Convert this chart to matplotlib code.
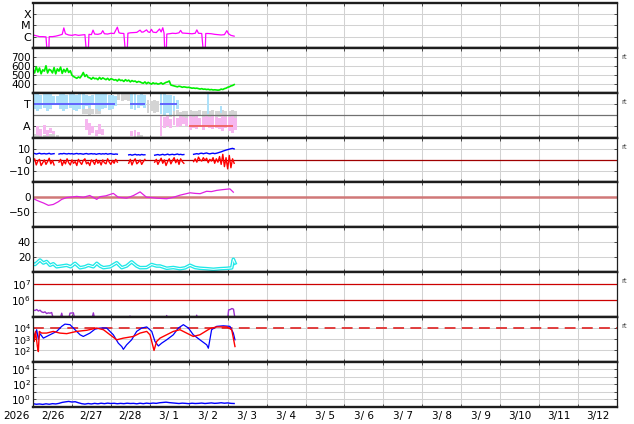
import numpy as np
import matplotlib
matplotlib.use('Agg')
import matplotlib.pyplot as plt
from matplotlib.ticker import NullLocator

nan = np.nan

# ---- data (hours since 2/26 00:00 UT) ----
day_labels = ['2/26', '2/27', '2/28', '3/ 1', '3/ 2', '3/ 3', '3/ 4', '3/ 5',
              '3/ 6', '3/ 7', '3/ 8', '3/ 9', '3/10', '3/11', '3/12']
year_label = '2026'

# X-ray flux (units of 1e-6 W/m2)
xray_t = [0, 2, 4, 6, 8, 9, 9.6, 10, 12, 14, 16, 18, 19, 20, 22, 24, 26, 28, 30, 32,
          33.3, 33.9, 34.5, 36, 37, 38, 40, 42, 43, 44, 46, 48, 50, 52, 53, 54, 56,
          57.3, 57.9, 58.5, 60, 62, 64, 66, 67, 68, 70, 71, 72, 73, 74, 76, 78, 79, 80,
          80.8, 81.4, 82, 82.5, 84, 86, 88, 90, 91, 92, 94, 96, 98, 100, 101, 102, 104,
          105.4, 106, 106.5, 108, 110, 112, 114, 116, 118, 119.5, 120.5, 122, 124]
xray_c = [1.4, 1.2, 1.0, 1.0, 0.95, 0.01, 0.01, 1.0, 1.0, 1.1, 1.3, 1.6, 6.0, 1.8, 1.4, 1.3, 1.5, 1.3, 1.4, 1.5,
          0.01, 0.01, 1.6, 1.5, 3.8, 1.7, 1.6, 1.9, 3.4, 1.8, 1.7, 2.0, 1.9, 7.0, 2.2, 2.0, 1.9,
          0.01, 0.01, 2.0, 2.2, 2.3, 2.4, 3.8, 2.5, 2.6, 4.0, 2.6, 2.4, 4.5, 2.5, 2.3, 4.8, 2.6, 6.2,
          2.0, 0.01, 0.01, 1.7, 1.8, 2.0, 1.9, 2.2, 3.6, 2.1, 2.0, 1.9, 1.8, 2.0, 4.0, 2.0, 1.9,
          0.01, 0.01, 1.9, 1.9, 1.8, 1.6, 1.5, 1.4, 1.5, 3.4, 1.8, 1.3, 1.1]

# solar wind speed, hourly from 0 h
sw_speed = [560, 520, 590, 530, 575, 510, 555, 540, 600, 520, 560,
            550, 520, 580, 510, 565, 540, 585, 515, 560, 530, 570, 525, 545,
            495, 480, 470, 460, 475,
            465, 490, 525, 480, 500, 470,
            465, 450, 470, 455, 460, 445, 470, 450, 465, 455, 445, 460, 440, 455, 450, 440,
            445, 430, 450, 435, 440, 425, 445, 430, 440, 420, 435, 425, 430, 415, 425, 420,
            410, 405, 420, 400, 415, 405, 395, 410, 400, 405, 395, 400, 410, 395, 405, 415, 420, 430,
            385, 380, 375, 370, 365, 372, 368, 360, 365, 362, 358, 360,
            355, 350, 352, 348, 350, 345, 340, 345, 338, 340, 335, 338, 332, 335, 330, 332, 330, 328, 330,
            340, 335, 345, 350, 360, 365, 375, 380, 390]

# IMF sector (phi, deg): range per 2-h bin
ta_blue_t = [0, 2, 4, 6, 8, 10, 12, 14, 16, 18, 20, 22, 24, 26, 28, 30, 32, 34, 36, 38, 40, 42, 44, 46, 48, 50,
             60, 62, 64, 66, 68, 78, 80, 82, 84, 86, 88, 107, 115]
ta_blue_lo = [225, 210, 230, 240, 215, 225, 260, 270, 230, 215, 225, 235, 220, 210, 230, 225, 250, 240, 260, 225,
              215, 230, 240, 220, 230, 250, 230, 220, 240, 250, 235, 190, 170, 200, 175, 210, 230, 190, 200]
ta_blue_hi = [350, 355, 345, 350, 352, 348, 330, 335, 350, 355, 345, 350, 352, 345, 350, 355, 340, 330, 345, 350,
              352, 348, 350, 345, 340, 330, 352, 350, 345, 350, 340, 350, 352, 345, 340, 330, 300, 358, 250]
ta_pink_t = [2, 4, 6, 8, 10, 12, 32, 34, 36, 38, 40, 42, 60, 62, 64,
             78, 80, 82, 84, 86, 88, 90, 92, 94, 96, 98, 100, 102, 104, 106, 108, 110, 112, 114, 116, 118, 120, 122, 124]
ta_pink_lo = [20, 10, 30, 15, 40, 25, 60, 20, 35, 15, 30, 20, 10, 15, 20,
              10, 80, 90, 75, 100, 85, 95, 110, 90, 60, 80, 70, 90, 60, 85, 75, 65, 80, 70, 55, 75, 50, 40, 60]
ta_pink_hi = [90, 70, 100, 60, 80, 55, 150, 120, 90, 60, 110, 70, 55, 60, 45,
              170, 165, 170, 150, 165, 160, 170, 168, 160, 170, 165, 172, 160, 168, 170, 165, 172, 168, 160, 170, 165, 168, 170, 160]
ta_gray_t = [0, 2, 4, 6, 8, 10, 12, 14, 30, 32, 34, 36, 38, 40, 52, 54, 56, 58, 62, 64, 66, 70, 72, 74, 76,
             84, 86, 88, 90, 92, 94, 96, 98, 100, 102, 104, 106, 108, 110, 112, 114, 116, 118, 120, 122, 124]
ta_gray_lo = [0, 0, 0, 0, 0, 0, 0, 0, 185, 190, 180, 185, 190, 185, 300, 290, 300, 295, 0, 0, 0, 200, 210, 195, 205,
              165, 160, 170, 155, 165, 160, 170, 165, 160, 170, 165, 160, 165, 170, 160, 165, 170, 160, 165, 170, 160]
ta_gray_hi = [30, 25, 35, 20, 30, 25, 35, 20, 230, 225, 235, 230, 225, 230, 358, 355, 358, 350, 25, 30, 20, 300, 290, 305, 295,
              215, 210, 220, 205, 215, 210, 220, 215, 210, 220, 215, 210, 215, 220, 210, 215, 220, 210, 215, 220, 210]
toward_start = [0, 60, 78]
toward_end = [50.5, 69, 89]
away_start = [96]
away_end = [123]

# IMF Bt / Bz (nT), hourly from 0 h
imf_bt = [5.5, 5.8, 5.2, 5.6, 6.0, 5.4, 5.5, 5.7, 5.3, 5.5, 5.9, 5.2, 5.4, 5.6, nan, nan, 5.2, 5.6, 5.4, 5.8,
          5.5, 5.3, 5.7, 5.4, 5.6, 5.2, 5.5, 5.8, 5.3, 5.6, 5.4, 5.1, 5.5, 5.7, 5.2, 5.4, 5.6, 5.3, 5.5, 5.0,
          5.4, 5.6, 5.2, 5.5, 5.3, 5.7, 5.1, 5.4, 5.6, 5.2, 5.0, 5.3, 5.1,
          nan, nan, nan, nan, nan, nan,
          4.5, 4.8, 4.2, 4.6, 5.0, 4.4, 4.7, 4.3, 4.9, 4.5, 4.6,
          nan, nan, nan, nan, nan,
          4.2, 4.5, 4.8, 4.3, 4.6, 5.0, 4.4, 4.7, 5.2, 4.5, 4.8, 5.0, 4.6, 4.9, 5.3, 4.7, 5.0, 4.6, 4.8,
          nan, nan, nan, nan, nan,
          5.0, 5.3, 5.6, 5.2, 5.8, 6.0, 5.5, 5.9, 6.2, 5.7, 5.4, 5.8, 6.0, 5.6, 5.9, 6.3, 6.8, 7.2, 7.8,
          8.3, 8.8, 9.2, 9.6, 10.0, 10.3, 9.8]
imf_bz = [-2.0, 1.0, -4.5, -1.0, 0.5, -5.0, -2.5, 0.0, -4.0, -1.5, 1.5, -3.5, -0.5, -4.5, nan, nan, -2.0, 0.5,
          -5.0, -1.0, -3.5, 1.0, -2.5, -4.5, 0.0, -3.0, -1.5, -5.0, 0.5, -2.0, -4.0, -0.5, 1.0, -3.5, -2.0, -5.0,
          0.0, -1.5, -4.0, 0.5, -3.0, -1.0, -4.5, 0.0, -2.5, -3.5, 1.0, -2.0, -4.0, -0.5, -3.0, 0.5, -2.0,
          nan, nan, nan, nan, nan, nan,
          -3.0, 0.5, -4.5, -1.0, 1.0, -3.5, -2.0, 0.0, -4.0, -1.5, 0.5,
          nan, nan, nan, nan, nan,
          -2.0, 0.5, -4.0, -1.0, 1.5, -3.0, 0.0, -5.0, -1.5, 1.0, -3.5, -0.5, 2.0, -2.5, 0.5, -4.0, 1.0, -1.5, -3.0,
          nan, nan, nan, nan, nan,
          -1.5, 1.0, -2.0, 2.5, 0.0, -1.0, 2.0, -0.5, 1.5, -2.5, 0.5, -1.0, 2.0, -3.0, 1.0, -2.0, 3.0, -4.0, 5.0,
          -6.0, 2.0, -8.0, 4.0, -7.0, 1.0, -3.0]

# Dst (nT)
dst_t = [0, 2.3, 4, 6.4, 9.5, 12.5, 15.6, 17.7, 20.7, 24, 27, 31, 35, 39.3, 41.3, 45, 49.5, 52.6, 57.7,
         62, 66, 70, 73, 76.2, 82.4, 86.5, 90.6, 96.8, 100, 103, 107, 110, 113.2, 116, 119.4, 121.4, 123.5]
dst_v = [-4, -10, -14, -19, -27, -24, -15, -7, -1, 1, 3, 0, 6, -7, 2, 5, 13, 0, -3,
         6, 18, 0, -1, -3, -5, 0, 7, 15, 13, 12, 20, 19, 23, 25, 27, 28, 17]

# cyan index
cy_t = [0, 1.2, 4.3, 6.4, 8.4, 10.5, 12.5, 14.6, 17.7, 20.7, 23.2, 25.9, 29, 32, 34.1, 37.2, 39.3, 41.3, 43.4, 47.5,
        51.6, 54.7, 57.7, 60.8, 63.9, 66, 70, 73.1, 76.2, 78.3, 82.4, 86.5, 90.6, 93.7, 96.8, 99.9, 103, 107.1,
        111.2, 115.3, 119.4, 122.5, 123.5, 124.5]
cy_v = [11.6, 10, 16, 12, 14, 9, 11, 7, 8, 9, 7, 11.6, 5.7, 7, 9, 7, 11.6, 8, 5.8, 7,
        12.4, 5.8, 8, 13.6, 8, 5.8, 6, 10, 8, 8, 5, 6, 4.4, 5.5, 9, 6, 5, 4.4,
        3.6, 4.4, 4.9, 5.5, 17, 12]

# electron flux (log10)
el_t = [0, 1.2, 2.3, 3.3, 4.3, 5.3, 6.4, 7.4, 8.4, 9.5, 10.5, 11.5, 12.5, 13.5, 16.5, 17.7, 18.7, 21.8, 22.8, 24.9,
        25.9, 36.2, 37.2, 38.2, 59.3, 59.8, 60.3, 81.9, 82.4, 82.9, 100.4, 100.9, 101.4, 119.9, 120.6, 121.6,
        122.6, 123.6, 124.5]
el_log = [5.42, 5.38, 5.44, 5.35, 5.40, 5.30, 5.26, 5.30, 5.20, 5.24, 5.22, 5.26, 4.9, 4.8, 4.8, 5.22, 4.8, 4.8,
          5.22, 5.24, 4.8, 4.8, 5.24, 4.8, 4.8, 5.05, 4.8, 4.8, 5.08, 4.8, 4.8, 5.1, 4.8, 4.8, 5.42, 5.44,
          5.50, 5.46, 4.9]

# flux pair (log10)
fb_t = [0, 1.23, 2.26, 3.29, 4.32, 6.37, 8.43, 10.48, 14.6, 17.7, 19.7, 22.8, 25.9, 29, 31, 35.1, 38.2, 41.3,
        45.4, 49.5, 52.6, 54.7, 55.7, 57.7, 60.8, 63.9, 67, 70.1, 73.2, 75.2, 77.3, 79.3, 82.4, 86.5, 89.6,
        92.7, 95.8, 98.8, 102.9, 107.1, 108.1, 110.1, 113.2, 117.3, 121.4, 123.5, 124.5]
fb_log = [3.7, 3.25, 3.85, 3.0, 3.5, 3.1, 3.25, 3.4, 3.7, 4.15, 4.35, 4.3, 3.85, 3.4, 3.25, 3.55, 3.9, 4.0,
          4.0, 3.4, 2.65, 2.35, 2.1, 2.5, 2.95, 3.7, 4.0, 4.1, 3.7, 2.8, 2.4, 2.65, 2.95, 3.4, 4.0,
          4.3, 4.0, 3.4, 2.95, 2.5, 2.2, 3.85, 4.15, 4.2, 4.15, 3.55, 2.95]
fr_t = [0, 0.8, 1.6, 2.7, 3.3, 3.9, 5.3, 8.4, 12.5, 16.6, 20.8, 26.9, 33.1, 39.3, 43.4, 47.5, 51.6, 55.7,
        61.9, 66, 70.1, 72.1, 73.2, 74.6, 76.2, 78.3, 82.4, 86.5, 90.6, 94.7, 98.8, 102.9, 109.1, 113.2,
        119.4, 122.5, 124.5]
fr_log = [4.0, 2.8, 3.7, 2.35, 1.9, 3.7, 3.55, 3.55, 3.7, 3.55, 3.5, 3.7, 3.8, 4.0, 3.85, 3.4, 2.95, 3.1,
          3.25, 3.55, 3.7, 3.4, 2.8, 2.0, 2.8, 3.1, 3.4, 3.7, 3.85, 3.55, 3.25, 3.4, 3.95, 4.1,
          4.1, 3.85, 2.35]

# low flux (log10), every 2 h from 0 h
lo_log = [-0.62, -0.70, -0.66, -0.72, -0.64, -0.70, -0.62, -0.66, -0.58,
          -0.45, -0.38, -0.32, -0.40, -0.36, -0.50,
          -0.62, -0.68, -0.60, -0.66, -0.58, -0.64, -0.56, -0.62, -0.55, -0.60, -0.57, -0.63, -0.58, -0.62, -0.56, -0.60,
          -0.58, -0.64, -0.56, -0.62, -0.55, -0.60, -0.54, -0.58, -0.50, -0.46, -0.42, -0.48, -0.52, -0.56, -0.60,
          -0.55, -0.58, -0.62, -0.56, -0.60,
          -0.58, -0.54, -0.60, -0.56, -0.52, -0.58, -0.55, -0.50, -0.56, -0.52, -0.58, -0.60]

W, H = 634, 424
L, R = 33, 617
TOP, BOT = 3, 406.5
PH = (BOT - TOP) / 9
FS = 7.5

fig = plt.figure(figsize=(W / 100, H / 100), dpi=100)


def d(h):
    return np.asarray(h, dtype=float) / 24.0


def panel(i, log=False):
    top = TOP + i * PH
    ax = fig.add_axes([L / W, 1 - (top + PH) / H, (R - L) / W, PH / H])
    if log:
        ax.set_yscale('log')
    ax.set_xlim(0, 15)
    ax.set_xticks(np.arange(16))
    ax.set_xticklabels([])
    ax.yaxis.set_minor_locator(NullLocator())
    ax.grid(True, which='major', color='#d2d2d2', lw=0.75)
    ax.set_axisbelow(True)
    ax.tick_params(axis='both', which='major', direction='in', length=2, width=0.6,
                   color='#333333', top=True, right=True, labelsize=FS, pad=1.5)
    for s in ['top', 'bottom']:
        ax.spines[s].set_linewidth(1.7)
        ax.spines[s].set_color('#1e1e1e')
    for s in ['left', 'right']:
        ax.spines[s].set_linewidth(0.9)
        ax.spines[s].set_color('#1e1e1e')
    return ax


def rt(ax):
    ax.text(1.008, 0.79, 'rt', transform=ax.transAxes, fontsize=5,
            color='#444444', va='center', ha='left')


def ranges(ax, t, lo, hi, color):
    lo = np.asarray(lo, dtype=float)
    hi = np.asarray(hi, dtype=float)
    ax.bar(d(t), hi - lo, bottom=lo, width=1.8 / 24, color=color, lw=0, align='edge')


# 1 X-ray
ax = panel(0, log=True)
ax.plot(d(xray_t), np.array(xray_c) * 1e-6, color='#ff00ff', lw=0.9)
ax.set_ylim(1e-7, 1e-3)
ax.set_yticks([1e-4, 1e-5, 1e-6])
ax.set_yticklabels(['X', 'M', 'C'], fontsize=8)

# 2 solar wind speed
ax = panel(1)
ax.plot(d(np.arange(len(sw_speed))), sw_speed, color='#00f000', lw=1.2)
ax.set_ylim(300, 800)
ax.set_yticks([700, 600, 500, 400])
rt(ax)

# 3 sector
ax = panel(2)
ranges(ax, ta_gray_t, ta_gray_lo, ta_gray_hi, '#d4d4d4')
ranges(ax, ta_blue_t, ta_blue_lo, ta_blue_hi, '#ade1fa')
ranges(ax, ta_pink_t, ta_pink_lo, ta_pink_hi, '#f6b6ef')
ax.axhline(180, color='#707070', lw=0.9)
ax.hlines([270] * len(toward_start), d(toward_start), d(toward_end), color='#5a5aff', lw=1.3)
ax.hlines([90] * len(away_start), d(away_start), d(away_end), color='#f06060', lw=1.3)
ax.set_ylim(0, 360)
ax.set_yticks([270, 90])
ax.set_yticklabels(['T', 'A'], fontsize=8)
rt(ax)

# 4 IMF
ax = panel(3)
hrs = d(np.arange(len(imf_bt)))
ax.axhline(0, color='#a00000', lw=0.9)
ax.plot(hrs, imf_bt, color='#0000ff', lw=1.0)
ax.plot(hrs, imf_bz, color='#ff0000', lw=1.0)
ax.set_ylim(-20, 20)
ax.set_yticks([10, 0, -10])
rt(ax)

# 5 Dst
ax = panel(4)
ax.axhline(0, color='#d07878', lw=1.8)
ax.plot(d(dst_t), dst_v, color='#e020e0', lw=0.9)
ax.set_ylim(-100, 50)
ax.set_yticks([0, -50])

# 6 cyan
ax = panel(5)
ax.plot(d(cy_t), cy_v, color='#20e8e8', lw=2.6)
ax.plot(d(cy_t), cy_v, color='white', lw=0.7)
ax.set_ylim(0, 60)
ax.set_yticks([40, 20])

# 7 electron flux
ax = panel(6, log=True)
ax.axhline(1e7, color='#cc0000', lw=0.9)
ax.axhline(1e6, color='#cc0000', lw=0.9)
ax.plot(d(el_t), 10 ** np.array(el_log), color='#9930cc', lw=1.0)
ax.set_ylim(1e5, 10 ** 7.7)
ax.set_yticks([1e7, 1e6])
ax.set_yticklabels(['$10^{7}$', '$10^{6}$'])
rt(ax)

# 8 flux pair
ax = panel(7, log=True)
ax.axhline(1e4, color='#e03030', lw=1.3, dashes=(6, 3.5))
ax.plot(d(fb_t), 10 ** np.array(fb_log), color='#0000ff', lw=0.9)
ax.plot(d(fr_t), 10 ** np.array(fr_log), color='#ff0000', lw=1.0)
ax.set_ylim(1e1, 1e5)
ax.set_yticks([1e4, 1e3, 1e2])
ax.set_yticklabels(['$10^{4}$', '$10^{3}$', '$10^{2}$'], fontsize=6.8)
rt(ax)

# 9 low flux
ax = panel(8, log=True)
ax.plot(d(np.arange(len(lo_log)) * 2), 10 ** np.array(lo_log), color='#0000ff', lw=1.0)
ax.set_ylim(1e-1, 1e5)
ax.set_yticks([1e4, 1e3, 1e2, 1e1, 1e0])
ax.set_yticklabels(['$10^{4}$', '', '$10^{2}$', '', '$10^{0}$'])
ax.set_xticks(np.arange(15) + 0.5, minor=True)
ax.set_xticklabels(day_labels, minor=True)
ax.tick_params(axis='x', which='minor', length=0, labelsize=FS, pad=3.5)
fig.text(16 / W, 1 - 416 / H, year_label, fontsize=FS, ha='center', va='center')

fig.savefig('out.png', dpi=100)
